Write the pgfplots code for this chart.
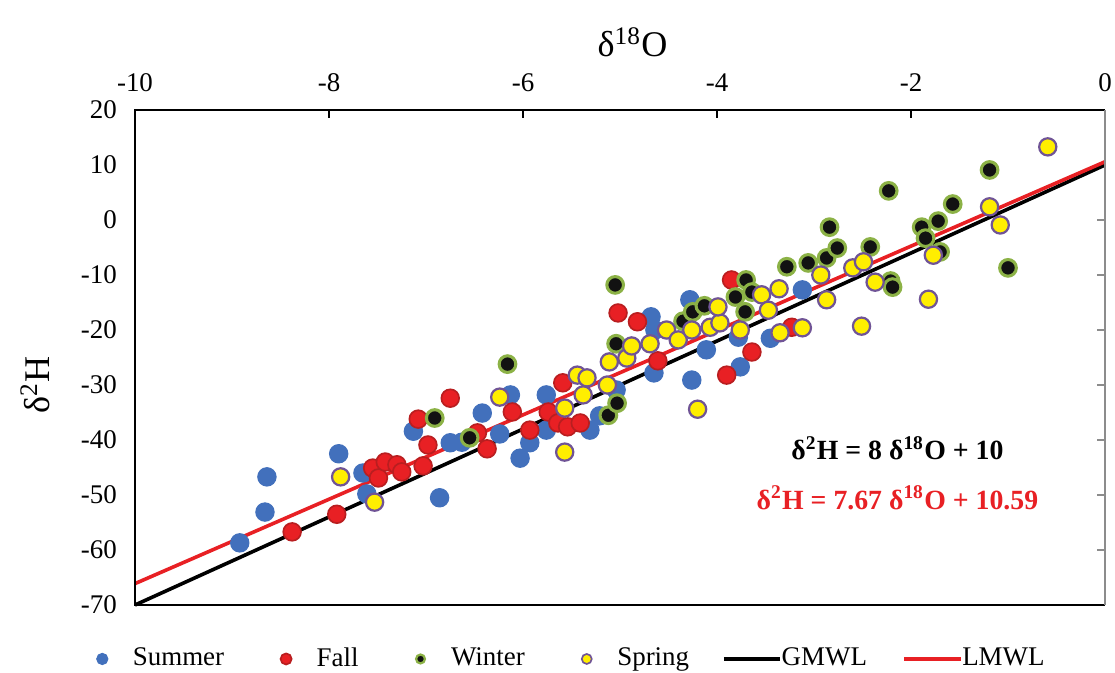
\documentclass[border=0pt]{standalone}
\usepackage{pgfplots}
\pgfplotsset{compat=1.18}
\usepackage{fontspec}
\setmainfont{Liberation Serif}

\definecolor{summerblue}{RGB}{66,112,188}
\definecolor{fallred}{RGB}{232,32,36}
\definecolor{falledge}{RGB}{185,30,32}
\definecolor{winterfill}{RGB}{18,18,18}
\definecolor{winteredge}{RGB}{140,178,70}
\definecolor{springyellow}{RGB}{255,238,0}
\definecolor{springedge}{RGB}{112,84,150}
\definecolor{lmwlred}{RGB}{232,32,36}
\definecolor{rightaxis}{RGB}{140,140,140}

% legend samples: a single dot for the seasons, a short line for the water lines
\pgfplotsset{
  dot legend/.style={legend image code/.code={%
    \path[draw=none, fill=none] (-2pt,-2pt) rectangle (9pt,2pt);
    \draw[##1] plot coordinates {(0pt,0pt)};}},
  waterline legend/.style={legend image code/.code={%
    \path[draw=none, fill=none] (0pt,0pt) -- (18.8pt,0pt);
    \draw[##1, overlay] (0pt,0pt) -- (20.3pt,0pt);}},
}

% delta-18O (x) and delta-2H (y) per season
\pgfplotstableread{
x y
-8.92 -58.7
-8.66 -53.1
-8.64 -46.7
-7.90 -42.5
-7.65 -46.0
-7.61 -49.8
-7.13 -38.4
-6.86 -50.5
-6.75 -40.5
-6.63 -40.4
-6.42 -35.1
-6.24 -38.9
-6.13 -31.8
-6.03 -43.3
-5.93 -40.5
-5.76 -31.8
-5.76 -38.2
-5.31 -38.2
-5.21 -35.6
-5.04 -30.9
-4.68 -17.6
-4.64 -20.0
-4.65 -27.8
-4.28 -14.5
-4.26 -29.1
-4.11 -23.6
-3.78 -21.3
-3.76 -26.7
-3.45 -21.5
-3.12 -12.7
}\summer

\pgfplotstableread{
x y
-8.38 -56.7
-7.92 -53.5
-7.55 -45.1
-7.49 -46.9
-7.42 -44.0
-7.30 -44.5
-7.25 -45.8
-7.08 -36.2
-7.03 -44.7
-6.98 -40.9
-6.75 -32.4
-6.47 -38.7
-6.37 -41.6
-6.11 -34.9
-5.93 -38.2
-5.74 -34.9
-5.64 -36.9
-5.59 -29.6
-5.54 -37.6
-5.41 -36.9
-5.02 -16.9
-4.82 -18.5
-4.61 -25.6
-3.90 -28.2
-3.85 -10.9
-3.64 -24.0
-3.23 -19.5
}\fall

\pgfplotstableread{
x y
-6.91 -36.0
-6.55 -39.6
-6.16 -26.2
-5.12 -35.5
-5.03 -33.3
-5.04 -22.5
-5.05 -11.8
-4.35 -18.4
-4.25 -16.7
-4.13 -15.6
-3.81 -14.0
-3.70 -10.9
-3.64 -13.1
-3.71 -16.7
-3.28 -8.5
-3.06 -7.8
-2.87 -6.9
-2.84 -1.3
-2.76 -5.1
-2.42 -4.9
-2.23 5.3
-2.21 -11.1
-2.19 -12.2
-1.89 -1.3
-1.85 -3.3
-1.72 -0.2
-1.70 -5.8
-1.57 2.9
-1.19 9.1
-1.00 -8.7
}\winter

\pgfplotstableread{
x y
-7.88 -46.7
-7.53 -51.3
-6.24 -32.2
-5.57 -34.2
-5.57 -42.2
-5.44 -28.2
-5.34 -28.7
-5.38 -31.8
-5.13 -30.0
-5.11 -25.8
-4.93 -25.1
-4.88 -22.9
-4.69 -22.5
-4.52 -20.0
-4.40 -21.8
-4.26 -20.0
-4.20 -34.4
-4.07 -19.5
-3.97 -18.7
-3.99 -15.8
-3.76 -20.0
-3.54 -13.6
-3.47 -16.4
-3.36 -12.5
-3.35 -20.5
-3.12 -19.6
-2.93 -10.0
-2.87 -14.5
-2.60 -8.7
-2.49 -7.6
-2.51 -19.3
-2.37 -11.3
-1.82 -14.4
-1.77 -6.4
-1.19 2.4
-1.08 -0.9
-0.59 13.3
}\spring

\begin{document}
\begin{tikzpicture}
\useasboundingbox (-48.6pt,-24.12pt) rectangle (352.8pt,217.8pt);
\begin{axis}[
  at={(0,0)}, anchor=south west, scale only axis,
  width=349.2pt, height=178.2pt,
  xmin=-10, xmax=0, ymin=-70, ymax=20,
  xtick={-10,-8,-6,-4,-2,0}, ytick={-70,-60,...,20},
  xtick pos=right, xticklabel pos=right,
  ytick pos=right, yticklabel pos=left,
  tick align=inside, major tick length=2.9pt,
  x tick style={black, line width=0.6pt},
  y tick style={rightaxis, line width=0.6pt},
  axis line style={draw=none},
  /pgf/number format/assume math mode=true,
  tick label style={font=\fontsize{9.7}{11}\selectfont},
  xticklabel style={yshift=3pt},
  yticklabel style={xshift=-3pt},
  xlabel={δ\textsuperscript{18}O},
  xlabel style={at={(axis description cs:0.513,1)}, anchor=center, yshift=24.5pt, font=\fontsize{13}{15}\selectfont},
  ylabel={δ\textsuperscript{2}H},
  ylabel style={at={(axis description cs:-0.103,0.444)}, anchor=center, font=\fontsize{13}{15}\selectfont},
  legend columns=6,
  legend style={at={(axis description cs:0.452,-0.109)}, anchor=center, draw=none, fill=none,
    font=\fontsize{9.7}{11}\selectfont,
    /tikz/column 2/.style={column sep=18.3pt},
    /tikz/column 4/.style={column sep=18.3pt},
    /tikz/column 6/.style={column sep=18.3pt},
    /tikz/column 8/.style={column sep=10.5pt},
    /tikz/column 10/.style={column sep=11.5pt}},
  clip=false,
]
\addplot[only marks, mark=*, mark size=3.3pt,
  mark options={fill=summerblue, draw=summerblue, line width=0.4pt},
  dot legend, legend image post style={mark size=2pt}] table {\summer};
\addlegendentry{Summer}
\addplot[only marks, mark=*, mark size=3.2pt,
  mark options={fill=fallred, draw=falledge, line width=0.6pt},
  dot legend, legend image post style={mark size=2pt}] table {\fall};
\addlegendentry{Fall}
\addplot[only marks, mark=*, mark size=3.0pt,
  mark options={fill=winterfill, draw=winteredge, line width=1.1pt},
  dot legend, legend image post style={mark size=1.6pt,
    mark options={fill=winterfill, draw=winteredge, line width=0.8pt}}] table {\winter};
\addlegendentry{Winter}
\addplot[only marks, mark=*, mark size=3.1pt,
  mark options={fill=springyellow, draw=springedge, line width=0.8pt},
  dot legend, legend image post style={mark size=1.8pt,
    mark options={fill=springyellow, draw=springedge, line width=0.6pt}}] table {\spring};
\addlegendentry{Spring}
% global and local meteoric water lines
\addplot[black, line width=1.3pt, waterline legend] coordinates {(-10,-70) (0,10)};
\addlegendentry{GMWL}
\addplot[lmwlred, line width=1.3pt, waterline legend] coordinates {(-10,-66.11) (0,10.59)};
\addlegendentry{LMWL}
% frame: black on three sides, grey vertical axis on the right
\draw[black, line width=0.8pt] (rel axis cs:1,1) -- (rel axis cs:0,1) -- (rel axis cs:0,0) -- (rel axis cs:1,0);
\draw[rightaxis, line width=0.8pt] (rel axis cs:1,0) -- (rel axis cs:1,1);
\node[font=\bfseries\fontsize{10}{12}\selectfont, text=black] at (axis cs:-2.14,-41.5)
  {δ\textsuperscript{2}H = 8 δ\textsuperscript{18}O + 10};
\node[font=\bfseries\fontsize{10}{12}\selectfont, text=lmwlred] at (axis cs:-2.14,-50.5)
  {δ\textsuperscript{2}H = 7.67 δ\textsuperscript{18}O + 10.59};
\end{axis}
\end{tikzpicture}
\end{document}
